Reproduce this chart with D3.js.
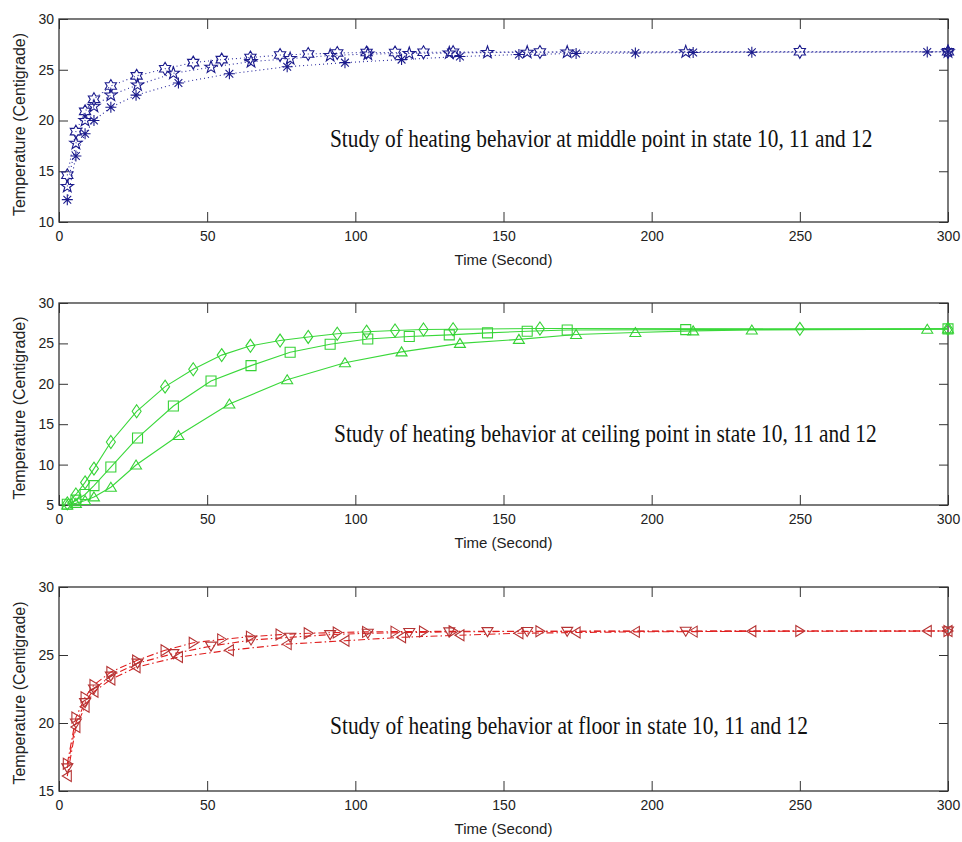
<!DOCTYPE html>
<html>
<head>
<meta charset="utf-8">
<script src="https://cdn.jsdelivr.net/npm/d3@7"></script>
<style>
  html, body { margin: 0; padding: 0; background: #fff; }
  svg { display: block; }
  .tick text { font-family: "Liberation Sans", Arial, sans-serif; fill: #222; }
</style>
</head>
<body>
<svg id="chart" width="962" height="842"></svg>
<script>
// Solver output times (s) for the three states
const timeState10 = [2.8, 5.7, 8.8, 11.8, 17.5, 26.2, 35.8, 45.3, 54.9, 64.6, 74.6, 84.1, 93.9, 103.8, 113.4, 123, 133, 162.3, 250, 300];
const timeState11 = [2.8, 5.7, 8.8, 11.8, 17.5, 26.5, 38.6, 51.3, 64.8, 78, 91.5, 104.2, 118.2, 131.7, 144.6, 158, 171.5, 211.5, 300];
const timeState12 = [2.8, 5.7, 8.8, 11.8, 17.5, 26, 40.3, 57.5, 77, 96.5, 115.6, 135.3, 155.2, 174.5, 194.5, 214, 233.8, 293, 300];

// Middle point temperature (Centigrade)
const middleState10 = [14.6, 18.9, 20.9, 22.1, 23.4, 24.4, 25.1, 25.7, 26.0, 26.2, 26.45, 26.55, 26.65, 26.7, 26.7, 26.72, 26.73, 26.75, 26.77, 26.77];
const middleState11 = [13.5, 17.75, 20.0, 21.4, 22.5, 23.5, 24.65, 25.25, 25.8, 26.1, 26.4, 26.55, 26.6, 26.65, 26.7, 26.72, 26.74, 26.76, 26.77];
const middleState12 = [12.2, 16.5, 18.7, 20.0, 21.3, 22.5, 23.7, 24.6, 25.3, 25.7, 26.0, 26.3, 26.5, 26.6, 26.65, 26.7, 26.72, 26.75, 26.77];

// Ceiling point temperature (Centigrade)
const ceilingState10 = [5.2, 6.3, 7.8, 9.5, 12.8, 16.6, 19.65, 21.8, 23.55, 24.7, 25.35, 25.8, 26.2, 26.45, 26.6, 26.72, 26.75, 26.85, 26.8, 26.8];
const ceilingState11 = [5.1, 5.6, 6.3, 7.4, 9.7, 13.3, 17.25, 20.35, 22.25, 23.9, 24.9, 25.55, 25.85, 26.05, 26.3, 26.5, 26.65, 26.7, 26.8];
const ceilingState12 = [5.0, 5.2, 5.55, 6.0, 7.2, 9.95, 13.6, 17.5, 20.5, 22.6, 23.95, 25.0, 25.5, 26.1, 26.35, 26.55, 26.65, 26.75, 26.8];

// Floor temperature (Centigrade)
const floorState10 = [17.0, 20.4, 21.9, 22.8, 23.75, 24.6, 25.35, 25.9, 26.15, 26.35, 26.5, 26.6, 26.65, 26.7, 26.72, 26.73, 26.74, 26.75, 26.76, 26.77];
const floorState11 = [16.7, 20.0, 21.5, 22.5, 23.45, 24.4, 25.1, 25.65, 26.1, 26.3, 26.5, 26.6, 26.65, 26.7, 26.72, 26.73, 26.74, 26.75, 26.77];
const floorState12 = [16.1, 19.7, 21.2, 22.3, 23.2, 24.1, 24.85, 25.35, 25.8, 26.05, 26.3, 26.45, 26.6, 26.65, 26.7, 26.72, 26.74, 26.76, 26.77];

// Axis ticks and texts
const timeTicks = [0, 50, 100, 150, 200, 250, 300];
const middleTicks = [10, 15, 20, 25, 30];
const ceilingTicks = [5, 10, 15, 20, 25, 30];
const floorTicks = [15, 20, 25, 30];
const xLabel = "Time (Second)";
const yLabel = "Temperature (Centigrade)";
const middleTitle = "Study of heating behavior at middle point in state 10, 11 and 12";
const ceilingTitle = "Study of heating behavior at ceiling point in state 10, 11 and 12";
const floorTitle = "Study of heating behavior at floor in state 10, 11 and 12";

// Marker outlines, centred on the origin
function starPath(points, rOut, rIn) {
  const p = d3.path();
  for (let i = 0; i < points * 2; i++) {
    const r = i % 2 === 0 ? rOut : rIn;
    const a = -Math.PI / 2 + i * Math.PI / points;
    const x = r * Math.cos(a), y = r * Math.sin(a);
    if (i === 0) p.moveTo(x, y); else p.lineTo(x, y);
  }
  p.closePath();
  return p.toString();
}
const markers = {
  hexagram: () => starPath(6, 6.5, 6.5 / Math.sqrt(3)),
  pentagram: () => starPath(5, 6.5, 2.6),
  asterisk: () => {
    const r = 5.5, d = r * Math.SQRT1_2;
    return `M${-r},0L${r},0M0,${-r}L0,${r}M${-d},${-d}L${d},${d}M${-d},${d}L${d},${-d}`;
  },
  diamond: () => "M0,-6.5L4.5,0L0,6.5L-4.5,0Z",
  square: () => "M-5,-5L5,-5L5,5L-5,5Z",
  triUp: () => "M0,-5L5.5,4L-5.5,4Z",
  triDown: () => "M0,5L5.5,-4L-5.5,-4Z",
  triRight: () => "M5,0L-4,-5.5L-4,5.5Z",
  triLeft: () => "M-5,0L4,-5.5L4,5.5Z"
};

const panels = [
  {
    top: 19, bottom: 222, domain: [10, 30], ticks: middleTicks, title: middleTitle,
    titleX: 330, titleY: 147, titleLen: 543,
    line: "#2a2a9e", mark: "#1b1b8c", dash: "1,3",
    series: [
      { t: timeState10, v: middleState10, m: "hexagram" },
      { t: timeState11, v: middleState11, m: "pentagram" },
      { t: timeState12, v: middleState12, m: "asterisk" }
    ]
  },
  {
    top: 303, bottom: 505, domain: [5, 30], ticks: ceilingTicks, title: ceilingTitle,
    titleX: 334, titleY: 442, titleLen: 543,
    line: "#3ad83a", mark: "#36d236", dash: null,
    series: [
      { t: timeState10, v: ceilingState10, m: "diamond" },
      { t: timeState11, v: ceilingState11, m: "square" },
      { t: timeState12, v: ceilingState12, m: "triUp" }
    ]
  },
  {
    top: 587, bottom: 791, domain: [15, 30], ticks: floorTicks, title: floorTitle,
    titleX: 330, titleY: 734, titleLen: 478,
    line: "#e01e1e", mark: "#b53434", dash: "7,3,1.5,3",
    series: [
      { t: timeState10, v: floorState10, m: "triRight" },
      { t: timeState11, v: floorState11, m: "triDown" },
      { t: timeState12, v: floorState12, m: "triLeft" }
    ]
  }
];

const svg = d3.select("#chart");
const left = 59, right = 948;
const x = d3.scaleLinear().domain([0, 300]).range([left, right]);

panels.forEach(cfg => {
  const y = d3.scaleLinear().domain(cfg.domain).range([cfg.bottom, cfg.top]);
  const g = svg.append("g");

  // Inward ticks on all four sides
  const bottomAxis = g.append("g").attr("transform", `translate(0,${cfg.bottom})`)
    .call(d3.axisBottom(x).tickValues(timeTicks).tickSizeInner(-10).tickSizeOuter(0).tickPadding(9));
  const topAxis = g.append("g").attr("transform", `translate(0,${cfg.top})`)
    .call(d3.axisTop(x).tickValues(timeTicks).tickSizeInner(-10).tickSizeOuter(0).tickFormat(""));
  const leftAxis = g.append("g").attr("transform", `translate(${left},0)`)
    .call(d3.axisLeft(y).tickValues(cfg.ticks).tickSizeInner(-9).tickSizeOuter(0).tickPadding(5));
  const rightAxis = g.append("g").attr("transform", `translate(${right},0)`)
    .call(d3.axisRight(y).tickValues(cfg.ticks).tickSizeInner(-9).tickSizeOuter(0).tickFormat(""));
  [bottomAxis, topAxis, leftAxis, rightAxis].forEach(a => {
    a.select(".domain").remove();
    a.selectAll("line").attr("stroke", "#333").attr("stroke-width", 1);
    a.selectAll("text").attr("font-size", 14).attr("fill", "#222");
  });

  // Plot frame
  g.append("rect")
    .attr("x", left).attr("y", cfg.top)
    .attr("width", right - left).attr("height", cfg.bottom - cfg.top)
    .attr("fill", "none").attr("stroke", "#333").attr("stroke-width", 1.3);

  // Axis labels
  g.append("text")
    .attr("x", (left + right) / 2).attr("y", cfg.bottom + 43)
    .attr("text-anchor", "middle")
    .attr("font-family", "'Liberation Sans', Arial, sans-serif")
    .attr("font-size", 15).attr("fill", "#222")
    .text(xLabel);
  g.append("text")
    .attr("transform", `translate(25,${(cfg.top + cfg.bottom) / 2 + 4}) rotate(-90)`)
    .attr("text-anchor", "middle")
    .attr("font-family", "'Liberation Sans', Arial, sans-serif")
    .attr("font-size", 16).attr("fill", "#222")
    .text(yLabel);

  // Curves
  const lineGen = d3.line().x(d => x(d[0])).y(d => y(d[1]));
  cfg.series.forEach(s => {
    const pts = s.t.map((t, i) => [t, s.v[i]]);
    g.append("path")
      .attr("d", lineGen(pts))
      .attr("fill", "none")
      .attr("stroke", cfg.line)
      .attr("stroke-width", 1.1)
      .attr("stroke-dasharray", cfg.dash);
  });
  cfg.series.forEach(s => {
    const pts = s.t.map((t, i) => [t, s.v[i]]);
    g.append("g").selectAll("path")
      .data(pts)
      .join("path")
      .attr("transform", d => `translate(${x(d[0])},${y(d[1])})`)
      .attr("d", markers[s.m]())
      .attr("fill", "none")
      .attr("stroke", cfg.mark)
      .attr("stroke-width", 1.1);
  });

  // In-plot caption, horizontally condensed to its target width
  const caption = g.append("text")
    .attr("x", 0).attr("y", 0)
    .attr("font-family", "'Liberation Serif', 'Times New Roman', serif")
    .attr("font-size", 26).attr("fill", "#111")
    .text(cfg.title);
  const natural = caption.node().getComputedTextLength();
  const sx = natural > 0 ? cfg.titleLen / natural : 1;
  caption.attr("transform", `translate(${cfg.titleX},${cfg.titleY}) scale(${sx},1)`);
});
</script>
</body>
</html>
